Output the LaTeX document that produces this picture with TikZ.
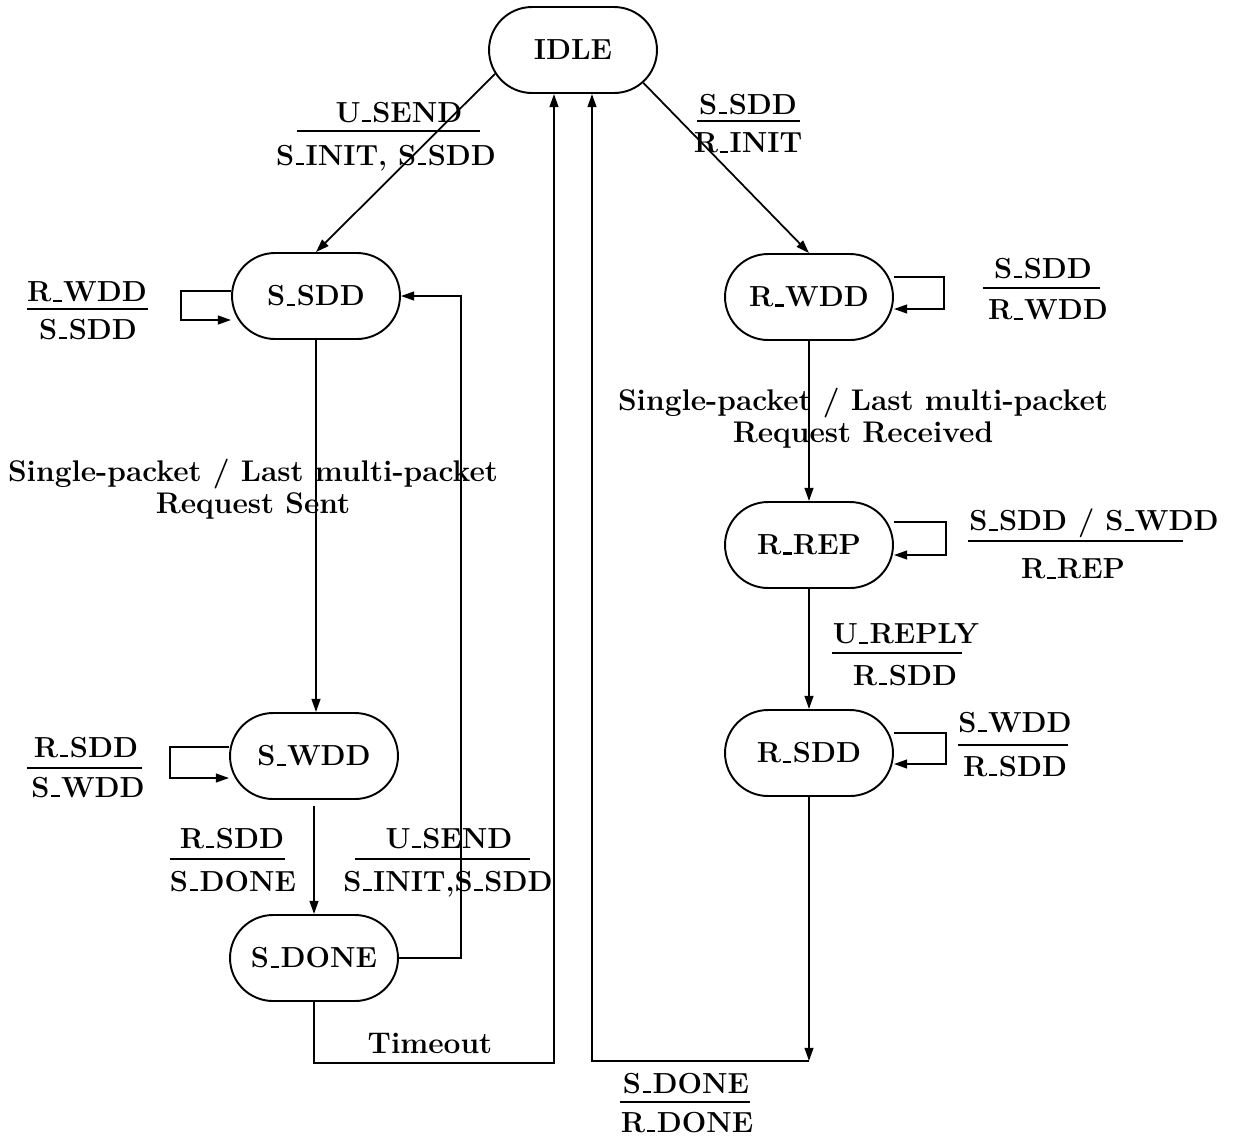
\documentclass[tikz,border=0pt]{standalone}
\usepackage{tikz}
\usetikzlibrary{arrows.meta, shapes.misc}
\newcommand{\figfont}{\fontsize{16.5}{18}\selectfont\bfseries}
\newcommand{\notefont}{\fontsize{17}{18.2}\selectfont\bfseries}
\newcommand{\usc}{\kern.05em\vrule width .3em height .08em\kern.05em}

\begin{document}
\begin{tikzpicture}[x=0.02cm, y=-0.02cm, line width=1pt,
    state/.style={draw, line width=1.1pt, rounded rectangle, minimum width=3.36cm,
      minimum height=1.72cm, inner sep=0pt, font=\figfont},
    lbl/.style={inner sep=0pt, text depth=0pt, font=\figfont},
    txt/.style={inner sep=0pt, align=center, font=\notefont},
    bar/.style={line width=1.6pt},
    arr/.style={-{Triangle[length=7.5pt,width=5pt]}}]
  \useasboundingbox (0,0) rectangle (1238,1137);

  \node[state] (idle) at (573,50) {IDLE};
  \node[state] (ssdd) at (316,296) {S\usc SDD};
  \node[state] (swdd) at (314,756) {S\usc WDD};
  \node[state] (sdone) at (314,958) {S\usc DONE};
  \node[state] (rwdd) at (809,297) {R\usc WDD};
  \node[state] (rrep) at (809,545) {R\usc REP};
  \node[state] (rsdd) at (809,753) {R\usc SDD};

  \draw[arr] (idle.-163) -- (ssdd.north);
  \draw[arr] (idle.-25) -- (rwdd.north);
  \draw[arr] (ssdd.south) -- (ssdd.south |- swdd.north);
  \draw[arr] ([yshift=-0.12cm]swdd.south) -- (sdone.north);
  \draw[arr] (sdone.east) -- ++(62,0) |- (ssdd.east);
  \draw[arr] (sdone.south) -- ++(0,61) -| ([xshift=-0.38cm]idle.south);
  \draw[arr] (rwdd.south) -- (rrep.north);
  \draw[arr] (rrep.south) -- (rsdd.north);
  \coordinate (rbot) at (809,1061);
  \draw[arr] (rsdd.south) -- (rbot);
  \draw[arr] (rbot) -| ([xshift=0.38cm]idle.south);

  \draw[arr] ([yshift=0.1cm]ssdd.west) -- ++(-50,0) |- ([yshift=-0.48cm]ssdd.west);
  \draw[arr] ([yshift=0.18cm]swdd.west) -- ++(-59,0) |- ([yshift=-0.44cm]swdd.west);
  \draw[arr] ([yshift=0.4cm]rwdd.east) -- ++(50,0) |- ([yshift=-0.24cm]rwdd.east);
  \draw[arr] ([yshift=0.46cm]rrep.east) -- ++(52,0) |- ([yshift=-0.2cm]rrep.east);
  \draw[arr] ([yshift=0.4cm]rsdd.east) -- ++(52,0) |- ([yshift=-0.22cm]rsdd.east);

  \node[lbl] (usend) at (399,112) {U\usc SEND};
  \draw[bar] (297,131) -- (480,131);
  \node[lbl] (sinit) at (386,155) {S\usc INIT, S\usc SDD};
  \node[lbl] (ssddin) at (748,104) {S\usc SDD};
  \draw[bar] (697,121) -- (800,121);
  \node[lbl] (rinit) at (748,143) {R\usc INIT};
  \node[lbl] (rwddin) at (87,292) {R\usc WDD};
  \draw[bar] (27,309) -- (148,309);
  \node[lbl] (ssddout) at (88,329) {S\usc SDD};
  \node[lbl] (ssddin2) at (1043,268) {S\usc SDD};
  \draw[bar] (983,288) -- (1100,288);
  \node[lbl] (rwddout) at (1048,310) {R\usc WDD};
  \node[txt] (sent) at (253,489) {Single-packet / Last multi-packet\\Request Sent};
  \node[txt] (recv) at (863,418) {Single-packet / Last multi-packet\\Request Received};
  \node[lbl] (sddwdd) at (1094,520) {S\usc SDD / S\usc WDD};
  \draw[bar] (968,541) -- (1183,541);
  \node[lbl] (rrepout) at (1073,569) {R\usc REP};
  \node[lbl] (ureply) at (906,634) {U\usc REPLY};
  \draw[bar] (832,653) -- (962,653);
  \node[lbl] (rsddout) at (905,675) {R\usc SDD};
  \node[lbl] (swddin) at (1015,722) {S\usc WDD};
  \draw[bar] (958,745) -- (1068,745);
  \node[lbl] (rsddout2) at (1015,766) {R\usc SDD};
  \node[lbl] (rsddin) at (86,747) {R\usc SDD};
  \draw[bar] (27,768) -- (142,768);
  \node[lbl] (swddout) at (88,787) {S\usc WDD};
  \node[lbl] (rsddin2) at (232,838) {R\usc SDD};
  \draw[bar] (170,859) -- (285,859);
  \node[lbl] (sdoneout) at (233,881) {S\usc DONE};
  \node[lbl] (usend2) at (449,838) {U\usc SEND};
  \draw[bar] (355,859) -- (530,859);
  \node[lbl] (sinit2) at (448,881) {S\usc INIT,S\usc SDD};
  \node[txt] (timeout) at (430,1043) {Timeout};
  \node[lbl] (sdonein) at (686,1083) {S\usc DONE};
  \draw[bar] (620,1102) -- (750,1102);
  \node[lbl] (rdone) at (687,1122) {R\usc DONE};
\end{tikzpicture}
\end{document}
